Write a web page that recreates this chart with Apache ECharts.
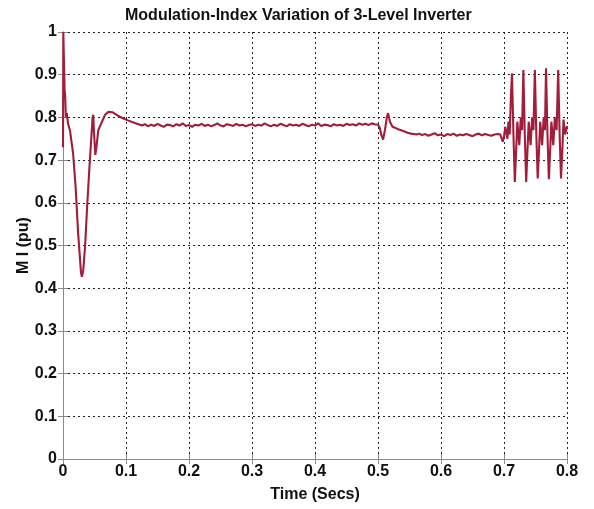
<!DOCTYPE html>
<html>
<head>
<meta charset="utf-8">
<title>Modulation-Index Variation of 3-Level Inverter</title>
<script src="https://cdn.jsdelivr.net/npm/echarts@6/dist/echarts.min.js"></script>
<style>
  html, body { margin: 0; padding: 0; background: #ffffff; }
  #chart { width: 594px; height: 509px; }
</style>
</head>
<body>
<div id="chart"></div>
<script>
// Tick labels
const timeTicks = ['0', '0.1', '0.2', '0.3', '0.4', '0.5', '0.6', '0.7', '0.8'];
const miTicks = ['0', '0.1', '0.2', '0.3', '0.4', '0.5', '0.6', '0.7', '0.8', '0.9', '1'];

// Start-up transient (time in s, modulation index in pu)
const startTimes = [0.000, 0.0005, 0.0015, 0.0025, 0.0035, 0.0045, 0.006, 0.008, 0.011, 0.016,
  0.020, 0.024, 0.0286, 0.030, 0.032, 0.035, 0.0386, 0.042, 0.0444, 0.047, 0.048, 0.049,
  0.0513, 0.053, 0.056, 0.061, 0.0667, 0.072, 0.079, 0.087, 0.095, 0.103, 0.114, 0.120];
const startMI = [0.73, 1.00, 0.93, 0.865, 0.85, 0.80, 0.81, 0.785, 0.77, 0.716,
  0.638, 0.529, 0.436, 0.427, 0.44, 0.497, 0.599, 0.684, 0.74, 0.80, 0.806, 0.77,
  0.712, 0.73, 0.77, 0.787, 0.806, 0.813, 0.812, 0.804, 0.798, 0.793, 0.787, 0.784];

// Steady operation before the first disturbance, sampled every 5 ms from 0.125 s
const steady1Start = 0.125;
const steady1Step = 0.005;
const steady1MI = [
  0.781, 0.784, 0.779, 0.783, 0.780, 0.785, 0.781, 0.778, 0.783, 0.782,
  0.779, 0.784, 0.781, 0.786, 0.780, 0.782, 0.778, 0.783, 0.781, 0.785,
  0.780, 0.783, 0.779, 0.782, 0.786, 0.781, 0.779, 0.784, 0.782, 0.780,
  0.785, 0.781, 0.783, 0.779, 0.782, 0.784, 0.780, 0.783, 0.781, 0.786,
  0.782, 0.779, 0.783, 0.780, 0.785, 0.782, 0.779, 0.784, 0.781, 0.783,
  0.780, 0.785, 0.782, 0.779, 0.783, 0.781, 0.786, 0.780, 0.783, 0.782,
  0.779, 0.784, 0.781, 0.783, 0.780, 0.785, 0.782, 0.784, 0.781, 0.786,
  0.783, 0.785, 0.782, 0.786, 0.784];

// Disturbance at 0.5 s
const step1Times = [0.500, 0.503, 0.505, 0.508, 0.511, 0.514, 0.516, 0.519, 0.523, 0.527,
  0.532, 0.537, 0.542, 0.547, 0.552, 0.557, 0.561];
const step1MI = [0.783, 0.775, 0.760, 0.748, 0.770, 0.800, 0.810, 0.790, 0.778, 0.776,
  0.772, 0.770, 0.767, 0.764, 0.762, 0.761, 0.760];

// Steady operation after the first disturbance, sampled every 5 ms from 0.565 s
const steady2Start = 0.565;
const steady2Step = 0.005;
const steady2MI = [
  0.762, 0.759, 0.761, 0.757, 0.760, 0.763, 0.758, 0.760, 0.756, 0.761,
  0.759, 0.762, 0.757, 0.760, 0.758, 0.761, 0.759, 0.756, 0.760, 0.762,
  0.758, 0.761, 0.759, 0.757, 0.760, 0.761];

// Oscillation after 0.7 s
const oscTimes = [0.694, 0.696, 0.698, 0.700, 0.702, 0.704, 0.7055, 0.707, 0.709, 0.711,
  0.7127, 0.715, 0.7172, 0.7192, 0.7212, 0.7242, 0.7267, 0.7287,
  0.7307, 0.733, 0.7352, 0.7372, 0.7392, 0.7422, 0.7447, 0.7467,
  0.749, 0.7513, 0.7535, 0.7555, 0.7575, 0.7605, 0.763, 0.765,
  0.7667, 0.769, 0.7712, 0.7732, 0.7752, 0.7782, 0.7807, 0.7835,
  0.786, 0.7883, 0.7905, 0.7925, 0.7945, 0.797, 0.7985, 0.800];
const oscMI = [0.760, 0.752, 0.743, 0.755, 0.778, 0.775, 0.750, 0.790, 0.760, 0.850,
  0.903, 0.760, 0.649, 0.720, 0.790, 0.735, 0.800, 0.770,
  0.911, 0.760, 0.649, 0.720, 0.790, 0.735, 0.800, 0.770,
  0.911, 0.760, 0.657, 0.720, 0.790, 0.735, 0.800, 0.770,
  0.915, 0.760, 0.655, 0.720, 0.790, 0.735, 0.800, 0.770,
  0.911, 0.760, 0.657, 0.720, 0.795, 0.760, 0.770, 0.780];

// Assemble the time series for the line
const points = [];
startTimes.forEach((t, i) => points.push([t, startMI[i]]));
steady1MI.forEach((v, i) => points.push([+(steady1Start + i * steady1Step).toFixed(4), v]));
step1Times.forEach((t, i) => points.push([t, step1MI[i]]));
steady2MI.forEach((v, i) => points.push([+(steady2Start + i * steady2Step).toFixed(4), v]));
oscTimes.forEach((t, i) => points.push([t, oscMI[i]]));
points.sort((a, b) => a[0] - b[0]);

const font = '"Liberation Sans", Arial, Helvetica, sans-serif';
const gridLine = { show: true, lineStyle: { color: '#222', type: [2, 3], width: 1 } };
const frame = { show: true, lineStyle: { color: '#8a8a8a', width: 1 } };

const chart = echarts.init(document.getElementById('chart'), null, { renderer: 'canvas' });
chart.setOption({
  animation: false,
  backgroundColor: '#ffffff',
  title: {
    text: 'Modulation-Index Variation of 3-Level Inverter',
    left: 120,
    top: 3,
    textStyle: { fontFamily: font, fontSize: 16, fontWeight: 'bold', color: '#111' }
  },
  grid: { left: 63, right: 27, top: 32, bottom: 50, show: false },
  xAxis: [{
    type: 'value', min: 0, max: 0.8, interval: 0.1,
    name: 'Time (Secs)', nameLocation: 'middle', nameGap: 28,
    nameTextStyle: { fontFamily: font, fontSize: 16, fontWeight: 'bold', color: '#111' },
    axisLine: frame,
    axisTick: { show: true, inside: true, length: 5, lineStyle: { color: '#8a8a8a' } },
    axisLabel: {
      margin: 5, fontFamily: font, fontSize: 16, fontWeight: 'bold', color: '#111',
      formatter: (v) => timeTicks[Math.round(v * 10)]
    },
    splitLine: gridLine
  }, {
    type: 'value', min: 0, max: 0.8, interval: 0.1, position: 'top',
    axisLine: frame,
    axisTick: { show: true, inside: true, length: 5, lineStyle: { color: '#8a8a8a' } },
    axisLabel: { show: false },
    splitLine: { show: false }
  }],
  yAxis: [{
    type: 'value', min: 0, max: 1, interval: 0.1,
    name: 'M I (pu)', nameLocation: 'middle', nameGap: 31, nameMoveOverlap: false,
    nameTextStyle: { fontFamily: font, fontSize: 16, fontWeight: 'bold', color: '#111' },
    axisLine: frame,
    axisTick: { show: true, inside: true, length: 5, lineStyle: { color: '#8a8a8a' } },
    axisLabel: {
      margin: 6, fontFamily: font, fontSize: 16, fontWeight: 'bold', color: '#111',
      formatter: (v) => miTicks[Math.round(v * 10)]
    },
    splitLine: gridLine
  }, {
    type: 'value', min: 0, max: 1, interval: 0.1, position: 'right',
    axisLine: frame,
    axisTick: { show: true, inside: true, length: 5, lineStyle: { color: '#8a8a8a' } },
    axisLabel: { show: false },
    splitLine: { show: false }
  }],
  series: [{
    type: 'line',
    xAxisIndex: 0,
    yAxisIndex: 0,
    data: points,
    showSymbol: false,
    smooth: false,
    lineStyle: { color: '#a11d3b', width: 2.1 },
    z: 5
  }]
});
</script>
</body>
</html>
